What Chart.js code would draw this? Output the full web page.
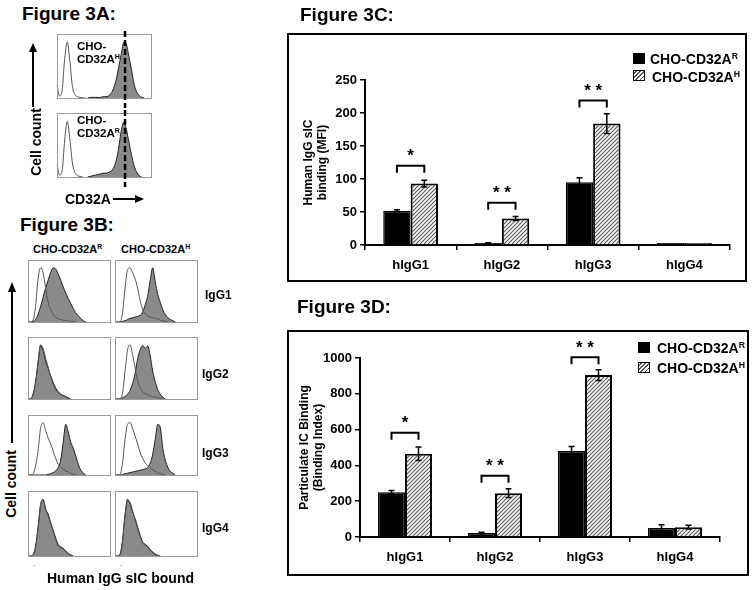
<!DOCTYPE html>
<html>
<head>
<meta charset="utf-8">
<script src="https://cdn.jsdelivr.net/npm/chart.js@4.4.1/dist/chart.umd.min.js"></script>
<style>
  body { margin: 0; width: 753px; height: 590px; background: #fff; position: relative; overflow: hidden;
         font-family: 'Liberation Sans', Arial, sans-serif; font-weight: bold; color: #000; }
  .abs { position: absolute; white-space: nowrap; }
  .fig { font-size: 19px; }
  .box { position: absolute; border: 2px solid #000; box-sizing: border-box; }
  .rot { transform: translate(-50%, -50%) rotate(-90deg); }
  sup { font-size: 0.62em; vertical-align: 0.55em; line-height: 0; }
  .sw { position: absolute; width: 12px; height: 11px; box-sizing: border-box; border: 1px solid #000; }
  .hatch { background: repeating-linear-gradient(135deg, #fff 0 1px, #555 1px 2.2px, #fff 2.2px 3px); }
  canvas { position: absolute; }
</style>
</head>
<body>

<!-- Figure 3A -->
<div class="abs fig" style="left:22px;top:3px;">Figure 3A:</div>
<canvas id="a3-top" width="104" height="77" style="left:49px;top:31px;"></canvas>
<canvas id="a3-bot" width="104" height="77" style="left:49px;top:110px;"></canvas>
<div class="abs" style="left:77px;top:40px;font-size:11.5px;line-height:12.5px;">CHO-<br>CD32A<sup>H</sup></div>
<div class="abs" style="left:77px;top:114px;font-size:11.5px;line-height:13px;">CHO-<br>CD32A<sup>R</sup></div>
<div class="abs rot" style="left:36px;top:142px;font-size:14px;">Cell count</div>
<div class="abs" style="left:65px;top:191px;font-size:14px;">CD32A</div>

<!-- Figure 3B -->
<div class="abs fig" style="left:20px;top:214px;">Figure 3B:</div>
<div class="abs" style="left:33px;top:243px;font-size:11px;">CHO-CD32A<sup>R</sup></div>
<div class="abs" style="left:121px;top:243px;font-size:11px;">CHO-CD32A<sup>H</sup></div>
<canvas id="b1r" width="92" height="75" style="left:20px;top:257px;"></canvas>
<canvas id="b1h" width="92" height="75" style="left:107px;top:257px;"></canvas>
<canvas id="b2r" width="92" height="75" style="left:20px;top:334px;"></canvas>
<canvas id="b2h" width="92" height="75" style="left:107px;top:334px;"></canvas>
<canvas id="b3r" width="92" height="73" style="left:20px;top:412px;"></canvas>
<canvas id="b3h" width="92" height="73" style="left:107px;top:412px;"></canvas>
<canvas id="b4r" width="92" height="78" style="left:20px;top:488px;"></canvas>
<canvas id="b4h" width="92" height="78" style="left:107px;top:488px;"></canvas>
<div class="abs" style="left:205px;top:288px;font-size:12px;">IgG1</div>
<div class="abs" style="left:202px;top:367px;font-size:12px;">IgG2</div>
<div class="abs" style="left:202px;top:446px;font-size:12px;">IgG3</div>
<div class="abs" style="left:202px;top:521px;font-size:12px;">IgG4</div>
<div class="abs rot" style="left:11px;top:484px;font-size:14px;">Cell count</div>
<div class="abs" style="left:47px;top:570px;font-size:14px;">Human IgG sIC bound</div>

<svg class="abs" width="753" height="590" style="left:0;top:0;pointer-events:none;">
  <line x1="33" y1="107" x2="33" y2="50" stroke="#000" stroke-width="2"/>
  <polygon points="33,43 29,52 37,52" fill="#000"/>
  <line x1="113" y1="199" x2="137" y2="199" stroke="#000" stroke-width="2"/>
  <polygon points="144,199 135,195 135,203" fill="#000"/>
  <line x1="12" y1="443" x2="12" y2="290" stroke="#000" stroke-width="2"/>
  <polygon points="12,282 8,292 16,292" fill="#000"/>
</svg>

<!-- Figure 3C -->
<div class="abs fig" style="left:300px;top:4px;">Figure 3C:</div>
<div class="box" style="left:287px;top:33px;width:460px;height:249px;"></div>
<canvas id="chartC" width="455" height="245" style="left:289px;top:35px;"></canvas>
<div class="sw" style="left:633px;top:53px;background:#000;"></div>
<div class="abs" style="left:650px;top:51px;font-size:14px;">CHO-CD32A<sup>R</sup></div>
<div class="sw hatch" style="left:633px;top:70px;"></div>
<div class="abs" style="left:652px;top:69px;font-size:14px;">CHO-CD32A<sup>H</sup></div>

<!-- Figure 3D -->
<div class="abs fig" style="left:297px;top:296px;">Figure 3D:</div>
<div class="box" style="left:287px;top:330px;width:462px;height:246px;"></div>
<canvas id="chartD" width="458" height="242" style="left:289px;top:332px;"></canvas>
<div class="sw" style="left:638px;top:342px;background:#000;"></div>
<div class="abs" style="left:657px;top:340px;font-size:14px;">CHO-CD32A<sup>R</sup></div>
<div class="sw hatch" style="left:638px;top:362px;"></div>
<div class="abs" style="left:657px;top:360px;font-size:14px;">CHO-CD32A<sup>H</sup></div>

<script>
// ---- bar chart data (3C: sIC MFI, 3D: particulate IC binding index) ----
const groups = ['hIgG1', 'hIgG2', 'hIgG3', 'hIgG4'];

const mfiR = [52, 3, 95, 3];
const mfiRErr = [1.5, 0.5, 7, 0];
const mfiH = [93, 40, 184, 3];
const mfiHErr = [5, 3, 15, 0];
const mfiTicks = [0, 50, 100, 150, 200, 250];
const mfiSigLevel = [120, 64, 219, null];
const mfiSigStars = ['*', '* *', '* *', ''];

const bindR = [250, 22, 480, 50];
const bindRErr = [10, 4, 25, 18];
const bindH = [465, 245, 905, 55];
const bindHErr = [38, 25, 30, 10];
const bindTicks = [0, 200, 400, 600, 800, 1000];
const bindSigLevel = [583, 342, 1004, null];
const bindSigStars = ['*', '* *', '* *', ''];

// ---- flow histograms (% of max, per bin on log scale) ----
const binsA = ['0','1','2','3','4','5','6','7','8','9','10','11','12','13','14','15','16','17','18','19',
               '20','21','22','23','24','25','26','27','28','29','30','31','32','33','34','35','36','37'];
const binsB = ['0','1','2','3','4','5','6','7','8','9','10','11','12','13','14','15','16',
               '17','18','19','20','21','22','23','24','25','26','27','28','29','30','31','32','33'];
const decadeTicks = { 1: '10\u2070', 9: '10\u00b9', 17: '10\u00b2', 25: '10\u00b3' };
const dashBin = 26.5;

const aOpenH = [20, 3, 12, 62, 88, 58, 18, 5, 2, 1, 0.5, 0];
const aFillH = [null, null, null, null, null, null, null, null, null, null, null, null,
                0, 1, 1, 1, 1, 1, 2, 2, 3, 7, 15, 28, 48, 68, 88, 85, 65, 45, 22, 10, 4, 1, 0];
const aOpenR = [20, 3, 10, 58, 87, 60, 22, 7, 2, 1, 0];
const aFillR = [null, null, null, null, null, null, null, null, null, null, null, null,
                0, 1, 2, 3, 4, 5, 6, 6, 7, 9, 14, 25, 45, 72, 86, 75, 55, 35, 18, 8, 2, 0];

const igg1R_open = [0, 0, 3, 25, 70, 88, 80, 55, 32, 20, 12, 8, 5, 4, 3, 2, 2, 1, 1, 0];
const igg1R_fill = [0, 0, 1, 4, 12, 25, 40, 55, 68, 80, 88, 86, 78, 68, 57, 47, 38, 30, 22, 15, 10, 6, 2, 0];
const igg1H_open = [0, 0, 0, 15, 55, 85, 88, 80, 70, 55, 35, 20, 13, 10, 8, 7, 6, 5, 3, 2, 1, 0];
const igg1H_fill = [0, 0, 0, 1, 2, 4, 6, 7, 8, 9, 11, 16, 28, 42, 68, 88, 65, 45, 32, 20, 12, 7, 4, 2, 0];

const igg2R_open = [0, 0, 6, 25, 58, 88, 82, 66, 52, 36, 24, 15, 10, 7, 5, 3, 1, 0];
const igg2R_fill = [0, 0, 8, 28, 60, 87, 78, 62, 50, 38, 27, 18, 12, 8, 6, 4, 2, 0];
const igg2H_open = [0, 0, 0, 10, 45, 80, 88, 72, 50, 30, 18, 12, 9, 7, 5, 4, 3, 2, 1, 0];
const igg2H_fill = [0, 0, 0, 2, 4, 8, 14, 25, 42, 65, 80, 87, 82, 86, 70, 45, 28, 15, 8, 3, 0];

const igg3R_open = [0, 0, 2, 15, 40, 78, 88, 75, 62, 52, 40, 28, 18, 13, 10, 7, 5, 3, 1, 0];
const igg3R_fill = [0, 0, 0, 0, 0, 0, 0, 0, 1, 2, 4, 7, 12, 25, 55, 85, 72, 55, 45, 32, 18, 8, 3, 0];
const igg3H_open = [0, 0, 1, 20, 60, 85, 88, 78, 65, 52, 38, 28, 20, 16, 12, 9, 6, 4, 2, 1, 0];
const igg3H_fill = [0, 0, 0, 1, 2, 3, 4, 5, 6, 7, 8, 9, 10, 13, 20, 35, 60, 85, 80, 45, 25, 13, 6, 3, 0];

const igg4R_open = [0, 0, 1, 12, 42, 78, 88, 74, 62, 50, 38, 25, 15, 12, 11, 7, 3, 1, 0];
const igg4R_fill = [0, 0, 2, 15, 45, 80, 87, 72, 65, 52, 40, 28, 18, 14, 12, 8, 4, 2, 0];
const igg4H_open = [0, 0, 2, 22, 62, 86, 83, 70, 56, 42, 30, 20, 16, 14, 8, 5, 2, 1, 0];
const igg4H_fill = [0, 0, 3, 25, 65, 88, 80, 68, 58, 45, 32, 22, 18, 15, 10, 6, 3, 1, 0];

const FONT = "'Liberation Sans', Arial, sans-serif";
Chart.defaults.font.family = FONT;
Chart.defaults.color = '#000';

// diagonal hatch for the CD32A-H bars
function makeHatch() {
    const c = document.createElement('canvas');
    c.width = 4; c.height = 4;
    const g = c.getContext('2d');
    g.fillStyle = '#fff';
    g.fillRect(0, 0, 4, 4);
    g.strokeStyle = '#555';
    g.lineWidth = 1.1;
    g.beginPath();
    g.moveTo(0, 4); g.lineTo(4, 0);
    g.moveTo(-1, 1); g.lineTo(1, -1);
    g.moveTo(3, 5); g.lineTo(5, 3);
    g.stroke();
    return g.createPattern(c, 'repeat');
}

// error bars + significance brackets
const annotPlugin = {
    id: 'annot',
    afterDatasetsDraw(chart, args, opts) {
        if (!opts.errors) return;
        const ctx = chart.ctx;
        const ys = chart.scales.y;
        ctx.save();
        ctx.strokeStyle = '#000';
        ctx.lineWidth = 1.5;
        chart.data.datasets.forEach((ds, di) => {
            chart.getDatasetMeta(di).data.forEach((bar, i) => {
                const e = opts.errors[di][i];
                if (!e) return;
                const v = ds.data[i];
                const x = bar.x;
                const y1 = ys.getPixelForValue(v + e);
                const y2 = ys.getPixelForValue(v - e);
                ctx.beginPath();
                ctx.moveTo(x, y1); ctx.lineTo(x, y2);
                ctx.moveTo(x - 3, y1); ctx.lineTo(x + 3, y1);
                ctx.moveTo(x - 3, y2); ctx.lineTo(x + 3, y2);
                ctx.stroke();
            });
        });
        ctx.lineWidth = 2;
        ctx.font = 'bold 17px ' + FONT;
        ctx.textAlign = 'center';
        ctx.textBaseline = 'middle';
        opts.levels.forEach((lv, i) => {
            if (lv == null) return;
            const x1 = chart.getDatasetMeta(0).data[i].x;
            const x2 = chart.getDatasetMeta(1).data[i].x;
            const yy = ys.getPixelForValue(lv);
            ctx.beginPath();
            ctx.moveTo(x1, yy + 7); ctx.lineTo(x1, yy); ctx.lineTo(x2, yy); ctx.lineTo(x2, yy + 7);
            ctx.stroke();
            ctx.fillText(opts.stars[i], (x1 + x2) / 2, yy - 9);
        });
        ctx.restore();
    }
};

// gray frame round each histogram + optional dashed marker
const framePlugin = {
    id: 'frame',
    afterDraw(chart, args, opts) {
        if (!opts.on) return;
        const a = chart.chartArea;
        const ctx = chart.ctx;
        ctx.save();
        ctx.strokeStyle = '#9a9a9a';
        ctx.lineWidth = 1;
        ctx.strokeRect(Math.round(a.left) + 0.5, Math.round(a.top) + 0.5,
                       Math.round(a.right - a.left) - 1, Math.round(a.bottom - a.top));
        if (opts.dash != null) {
            const x = chart.scales.x.getPixelForValue(opts.dash);
            ctx.strokeStyle = '#000';
            ctx.lineWidth = 2.5;
            ctx.setLineDash([6, 3]);
            ctx.beginPath();
            ctx.moveTo(x, 0); ctx.lineTo(x, chart.height);
            ctx.stroke();
        }
        ctx.restore();
    }
};

Chart.register(annotPlugin, framePlugin);

function histChart(id, bins, openData, fillData, opt) {
    opt = opt || {};
    const ctx = document.getElementById(id).getContext('2d');
    return new Chart(ctx, {
        type: 'line',
        data: {
            labels: bins,
            datasets: [
                {
                    data: openData,
                    borderColor: '#555',
                    borderWidth: 1,
                    fill: false,
                    pointRadius: 0,
                    cubicInterpolationMode: 'monotone'
                },
                {
                    data: fillData,
                    borderColor: '#222',
                    borderWidth: 1,
                    backgroundColor: '#8a8a8a',
                    fill: 'origin',
                    pointRadius: 0,
                    cubicInterpolationMode: 'monotone'
                }
            ]
        },
        options: {
            responsive: false,
            animation: false,
            layout: { padding: { top: 1, right: 1 } },
            plugins: {
                legend: { display: false },
                tooltip: { enabled: false },
                frame: { on: true, dash: opt.dash }
            },
            scales: {
                x: {
                    display: !!opt.xTicks,
                    grid: { display: false },
                    border: { display: false },
                    ticks: {
                        autoSkip: false, maxRotation: 0, padding: 1,
                        color: '#666', font: { size: 6 },
                        callback: (v, i) => decadeTicks[i] || ''
                    },
                    afterFit: s => { s.height = 10; }
                },
                y: {
                    min: 0, max: 100,
                    grid: { display: false },
                    border: { display: false },
                    ticks: { stepSize: 20, color: '#999', font: { size: 4 }, padding: 1 },
                    afterFit: s => { s.width = 8; }
                }
            }
        }
    });
}

function barChart(id, rVals, hVals, rErr, hErr, ticks, sigLevel, sigStars, yTitle, lay) {
    const ctx = document.getElementById(id).getContext('2d');
    return new Chart(ctx, {
        type: 'bar',
        data: {
            labels: groups,
            datasets: [
                { label: 'CHO-CD32A R', data: rVals, backgroundColor: '#000', borderColor: '#000', borderWidth: 1.5 },
                { label: 'CHO-CD32A H', data: hVals, backgroundColor: makeHatch(), borderColor: '#000', borderWidth: 2 }
            ]
        },
        options: {
            responsive: false,
            animation: false,
            categoryPercentage: 0.6,
            barPercentage: 1,
            layout: { padding: { top: lay.top, right: lay.right, left: lay.left, bottom: 0 } },
            plugins: {
                legend: { display: false },
                tooltip: { enabled: false },
                annot: { errors: [rErr, hErr], levels: sigLevel, stars: sigStars }
            },
            scales: {
                x: {
                    grid: { display: true, drawOnChartArea: false, color: '#000', tickLength: 5, lineWidth: 1.5, offset: true },
                    border: { color: '#000', width: 2 },
                    ticks: { font: { size: 13, weight: 'bold' }, padding: 8 },
                    afterFit: s => { s.height = lay.xh; }
                },
                y: {
                    min: ticks[0], max: ticks[ticks.length - 1],
                    afterBuildTicks: s => { s.ticks = ticks.map(v => ({ value: v })); },
                    grid: { display: true, drawOnChartArea: false, color: '#000', tickLength: 5, lineWidth: 1.5 },
                    border: { color: '#000', width: 2 },
                    ticks: { font: { size: 13, weight: 'bold' }, padding: 3, callback: v => String(v) },
                    title: { display: true, text: yTitle, font: { size: 12, weight: 'bold' }, padding: { top: 0, bottom: 4 } },
                    afterFit: s => { s.width = lay.yw; }
                }
            }
        }
    });
}

histChart('a3-top', binsA, aOpenH, aFillH, { dash: dashBin });
histChart('a3-bot', binsA, aOpenR, aFillR, { dash: dashBin });

histChart('b1r', binsB, igg1R_open, igg1R_fill);
histChart('b1h', binsB, igg1H_open, igg1H_fill);
histChart('b2r', binsB, igg2R_open, igg2R_fill);
histChart('b2h', binsB, igg2H_open, igg2H_fill);
histChart('b3r', binsB, igg3R_open, igg3R_fill);
histChart('b3h', binsB, igg3H_open, igg3H_fill);
histChart('b4r', binsB, igg4R_open, igg4R_fill, { xTicks: true });
histChart('b4h', binsB, igg4H_open, igg4H_fill, { xTicks: true });

barChart('chartC', mfiR, mfiH, mfiRErr, mfiHErr, mfiTicks, mfiSigLevel, mfiSigStars,
         ['Human IgG sIC', 'binding (MFI)'], { top: 45, right: 14, left: 12, yw: 64, xh: 35 });
barChart('chartD', bindR, bindH, bindRErr, bindHErr, bindTicks, bindSigLevel, bindSigStars,
         ['Particulate IC Binding', '(Binding Index)'], { top: 26, right: 27, left: 8, yw: 63, xh: 37 });
</script>
</body>
</html>
